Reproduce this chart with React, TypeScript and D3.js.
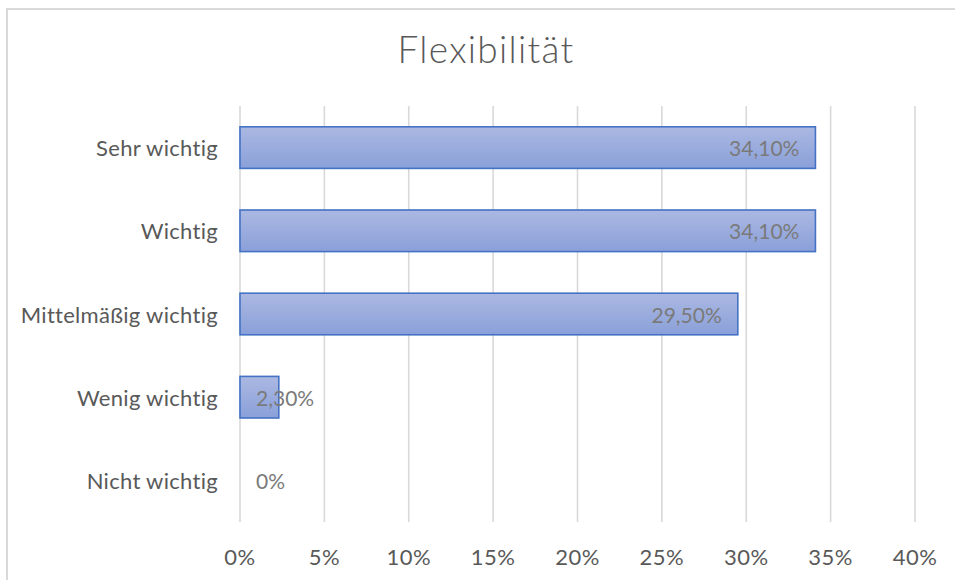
import React from "react";
import * as d3 from "d3";

const categories = ["Sehr wichtig", "Wichtig", "Mittelmäßig wichtig", "Wenig wichtig", "Nicht wichtig"];
const values = [34.1, 34.1, 29.5, 2.3, 0];
const valueLabels = ["34,10%", "34,10%", "29,50%", "2,30%", "0%"];
const ticks = [0, 5, 10, 15, 20, 25, 30, 35, 40];
const title = "Flexibilität";

const W = 955;
const H = 580;
const FONT = "Lato, 'Open Sans', sans-serif";

export default function App() {
  const x = d3.scaleLinear().domain([0, 40]).range([240, 915]);
  const y = d3.scaleBand<string>().domain(categories).range([106, 522]).paddingInner(0.5).paddingOuter(0.25);
  const textColor = "#595959";

  return (
    <svg width={W} height={H} style={{ position: "absolute", left: 0, top: 0 }} fontFamily={FONT}>
      <defs>
        <linearGradient id="barGrad" x1="0" y1="0" x2="0" y2="1">
          <stop offset="0%" stopColor="#abb8e2" />
          <stop offset="100%" stopColor="#8aa0d9" />
        </linearGradient>
      </defs>
      <rect x={0} y={0} width={W} height={H} fill="#fff" />
      <rect x={7} y={9} width={W + 20} height={H + 20} fill="#fff" stroke="#d9d9d9" strokeWidth={2} />
      <text x={486} y={63} textAnchor="middle" fontSize={37} letterSpacing={1.3} fill={textColor} fontWeight={300}>
        {title}
      </text>
      {ticks.map((t) => (
        <line key={"g" + t} x1={x(t)} x2={x(t)} y1={106} y2={522} stroke="#d9d9d9" strokeWidth={1.6} />
      ))}
      {categories.map((c, i) => {
        const y0 = y(c)!;
        const bw = y.bandwidth();
        const v = values[i];
        const xe = x(v);
        const lbl = valueLabels[i];
        const approxW = lbl.length * 10;
        const inside = xe - 16 - approxW >= x(0) + 16;
        return (
          <g key={c}>
            {v > 0 && (
              <rect x={x(0)} y={y0} width={xe - x(0)} height={bw} fill="url(#barGrad)" stroke="#4472c4" strokeWidth={1.6} />
            )}
            <text
              x={218}
              y={y0 + bw / 2}
              textAnchor="end"
              dominantBaseline="central"
              fontSize={22}
              letterSpacing={0.3}
              fill={textColor}
            >
              {c}
            </text>
            <text
              x={inside ? xe - 16 : x(0) + 16}
              y={y0 + bw / 2}
              textAnchor={inside ? "end" : "start"}
              dominantBaseline="central"
              fontSize={21}
              fill="#7a7a7a"
            >
              {lbl}
            </text>
          </g>
        );
      })}
      {ticks.map((t) => (
        <text key={"t" + t} x={x(t)} y={556} textAnchor="middle" dominantBaseline="central" fontSize={22} letterSpacing={0.5} fill={textColor}>
          {t + "%"}
        </text>
      ))}
    </svg>
  );
}
